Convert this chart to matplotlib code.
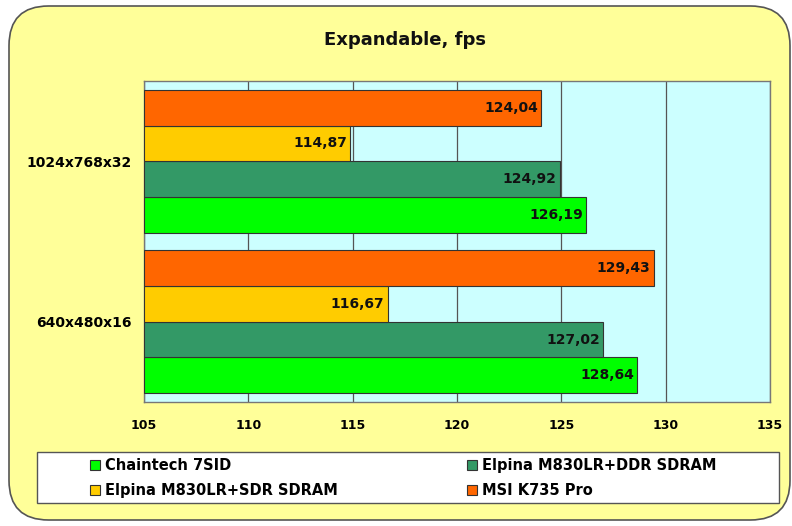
import matplotlib
matplotlib.use('Agg')
import matplotlib.pyplot as plt
from matplotlib.patches import FancyBboxPatch, Rectangle

plt.rcParams['font.family'] = ['DejaVu Sans']

# data
resolutions = ['640x480x16', '1024x768x32']
series = ['Chaintech 7SID', 'Elpina M830LR+DDR SDRAM', 'Elpina M830LR+SDR SDRAM', 'MSI K735 Pro']
chaintech = [128.64, 126.19]
elpina_ddr = [127.02, 124.92]
elpina_sdr = [116.67, 114.87]
msi = [129.43, 124.04]
colors = ['#00FF00', '#339966', '#FFCC00', '#FF6600']
xticks = [105, 110, 115, 120, 125, 130, 135]

W, H = 792, 526
fig = plt.figure(figsize=(W / 100, H / 100), dpi=100)
fig.patch.set_facecolor('white')

# outer rounded frame
frame = FancyBboxPatch((9 / W, 6 / H), 781 / W, 514 / H,
                       boxstyle='round,pad=0,rounding_size=0.05',
                       transform=fig.transFigure, facecolor='#FFFF99',
                       edgecolor='#555555', linewidth=1.2, zorder=-5,
                       mutation_aspect=W / H)
fig.add_artist(frame)

ax = fig.add_axes([144 / W, 1 - 402 / H, 626 / W, 321 / H])
ax.set_facecolor('#CCFFFF')

h = 0.222
offsets = [-1.5 * h, -0.5 * h, 0.5 * h, 1.5 * h]
data = [chaintech, elpina_ddr, elpina_sdr, msi]
left = xticks[0]
for vals, off, col, name in zip(data, offsets, colors, series):
    ys = [i + off for i in range(len(resolutions))]
    widths = [v - left for v in vals]
    ax.barh(ys, widths, height=h, left=left, color=col, edgecolor='#333333',
            linewidth=0.8, label=name, zorder=3)
    for y, v in zip(ys, vals):
        ax.text(v - 0.15, y, ('%.2f' % v).replace('.', ','), ha='right', va='center',
                fontsize=10, fontweight='bold', color='#111111', zorder=4)

ax.set_xlim(105, 135)
ax.set_ylim(-0.5, 1.5)
ax.set_xticks(xticks)
ax.set_xticklabels([str(t) for t in xticks], fontsize=9, fontweight='bold')
ax.set_yticks(range(len(resolutions)))
ax.set_yticklabels(resolutions, fontsize=10, fontweight='bold')
ax.tick_params(axis='x', length=0, pad=12)
ax.tick_params(axis='y', length=0, pad=9)
ax.xaxis.grid(True, color='#555555', linewidth=0.9, zorder=1)
ax.set_axisbelow(True)
for s in ax.spines.values():
    s.set_color('#777777')
    s.set_linewidth(1.0)

fig.text(405 / W, 1 - 40 / H, 'Expandable, fps', ha='center', va='center',
         fontsize=13, fontweight='bold', color='#111111')

# legend box
box = Rectangle((37 / W, 1 - 503 / H), 742 / W, 51 / H, transform=fig.transFigure,
                facecolor='white', edgecolor='#555555', linewidth=1.0, zorder=1)
fig.add_artist(box)

handles, labels = ax.get_legend_handles_labels()
order = [0, 2, 1, 3]
leg = fig.legend([handles[i] for i in order], [labels[i] for i in order],
                 loc='upper left', bbox_to_anchor=(90 / W, 1 - 458 / H), ncol=2,
                 frameon=False, prop={'weight': 'bold', 'size': 10.5},
                 handlelength=0.7, handleheight=0.7, handletextpad=0.3,
                 columnspacing=8.9, borderpad=0, borderaxespad=0, labelspacing=0.7)
leg.set_zorder(2)

fig.savefig('out.png', dpi=100, facecolor=fig.get_facecolor())
